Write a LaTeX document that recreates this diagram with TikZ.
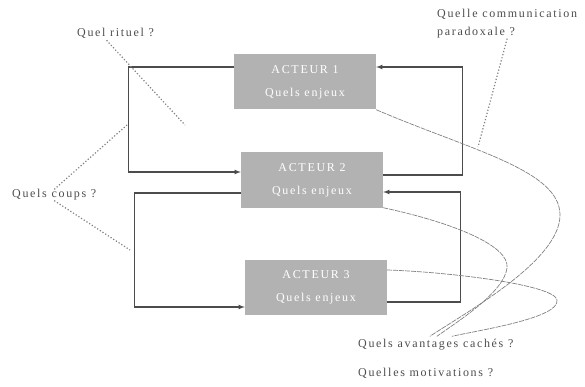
\documentclass[tikz,border=0pt]{standalone}
\usepackage{fontspec}
\setmainfont{Liberation Serif}[LetterSpace=14]
\usetikzlibrary{arrows}

\begin{document}
\begin{tikzpicture}[x=1pt,y=-1pt,
	acteur/.style={fill=gray!60,text=white,minimum width=142pt,minimum height=55pt,
		align=center,font=\fontsize{12}{14}\selectfont},
	question/.style={text=black!70,inner sep=0pt,anchor=west,align=left,
		font=\fontsize{12}{18}\selectfont},
	boucle/.style={->,>=latex,draw=black!70,line width=1.1pt},
	pointille/.style={draw=black!50,dotted,line width=1.2pt},
	lien/.style={draw=black!50,line width=0.7pt,dash pattern=on 5pt off 1pt}]
		\useasboundingbox (0,0) rectangle (585,387);
		% les trois acteurs
		\node[acteur] (a1) at (305,82) {ACTEUR 1\\[9pt]Quels enjeux};
		\node[acteur] (a2) at (312,180) {ACTEUR 2\\[9pt]Quels enjeux};
		\node[acteur] (a3) at (316,287) {ACTEUR 3\\[9pt]Quels enjeux};
		%
		\node[question] (rituel) at (77,33) {Quel rituel ?};
		\node[question] (comm) at (437,24) {Quelle communication\\paradoxale ?};
		\node[question] (coups) at (12,195) {Quels coups ?};
		\node[question] (caches) at (358,345) {Quels avantages cachés ?};
		\node[question] (motiv) at (358,373) {Quelles motivations ?};
		%
		\coordinate (rit) at (185,125);
		\coordinate (cp1) at (127,125);
		\coordinate (cp2) at (130,250);
		\coordinate (par) at (478,147);
		% boucles entre acteurs
		\draw[boucle] ([yshift=15pt]a1.west) -- ++(-105,0) |- ([yshift=8pt]a2.west);
		\draw[boucle] ([yshift=5pt]a2.east) -- ++(79,0) |- ([yshift=15pt]a1.east);
		\draw[boucle] ([yshift=-13pt]a2.west) -- ++(-106,0) |- ([yshift=-20pt]a3.west);
		\draw[boucle] ([yshift=-15pt]a3.east) -- ++(73,0) |- ([yshift=-12pt]a2.east);
		%
		\draw[pointille] ([xshift=-9pt,yshift=-2pt]rituel.south) -- (rit);
		\draw[pointille] (coups.north) -- (cp1);
		\draw[pointille] (coups.south) -- (cp2);
		\draw[pointille] (comm.south) -- (par);
		%
		\draw[lien] (a1.south east) .. controls (470,150) and (560,170) .. (560,215)
			.. controls (560,260) and (470,310) .. ([xshift=-6pt,yshift=3pt]caches.north);
		\draw[lien] (a2.south east) .. controls (450,222) and (510,245) .. (507,268)
			.. controls (504,292) and (460,320) .. ([xshift=1pt,yshift=3pt]caches.north);
		\draw[lien] ([yshift=17pt]a3.east) .. controls (450,272) and (555,285) .. (557,300)
			.. controls (560,318) and (480,330) .. ([xshift=16pt,yshift=3pt]caches.north);
\end{tikzpicture}
\end{document}
